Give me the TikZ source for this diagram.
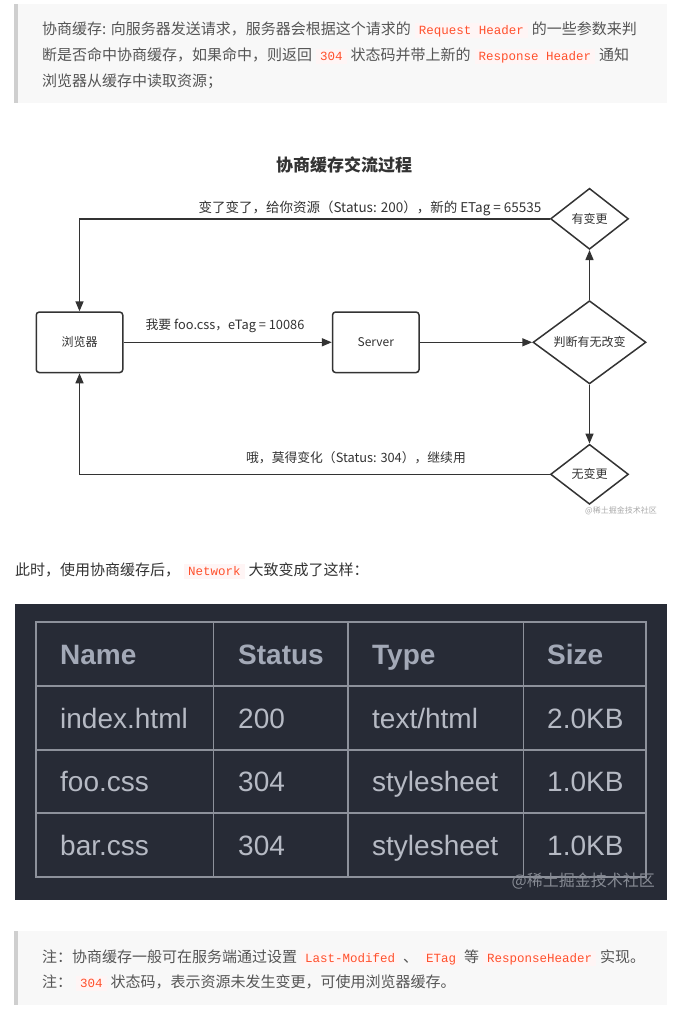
\documentclass[tikz,border=0pt]{standalone}
\usepackage{fontspec}
\setmainfont{Noto Sans CJK SC}
\newfontfamily\cjk{Noto Sans CJK SC}
\newfontfamily\monof{Liberation Mono}
\newfontfamily\tabf{Liberation Sans}
\usetikzlibrary{arrows.meta,shapes.geometric}
\definecolor{quotebg}{HTML}{F8F8F8}
\definecolor{quotebar}{HTML}{CFCFCF}
\definecolor{qtext}{HTML}{555555}
\definecolor{ptext}{HTML}{333333}
\definecolor{codebg}{HTML}{FFF5F5}
\definecolor{codered}{HTML}{FF502C}
\definecolor{diag}{HTML}{333333}
\definecolor{wm}{HTML}{AAAAAA}
\definecolor{tblbg}{HTML}{272B36}
\definecolor{tblgrid}{HTML}{8D919B}
\definecolor{tblhead}{HTML}{A3A9B7}
\definecolor{tbltext}{HTML}{B6BAC4}
\definecolor{tblwm}{HTML}{868A93}
\newcommand\cd[1]{\hspace{4pt}{\setlength{\fboxsep}{0pt}\colorbox{codebg}{\rule[-3.5pt]{0pt}{15pt}\hspace{4pt}\textcolor{codered}{\monof\fontsize{12.5pt}{14pt}\selectfont #1}\hspace{4pt}}}\hspace{4pt}}
\begin{document}
\begin{tikzpicture}[x=1pt,y=-1pt,
  qline/.style={anchor=base west,inner sep=0pt,text=qtext,font=\cjk\fontsize{15pt}{18pt}\selectfont},
  pline/.style={anchor=base west,inner sep=0pt,text=ptext,font=\cjk\fontsize{15pt}{18pt}\selectfont},
  box/.style={draw=diag,line width=1.5pt,rounded corners=3pt,minimum width=86.5pt,minimum height=60.5pt,inner sep=0pt,text=diag,font=\cjk\fontsize{12pt}{14pt}\selectfont},
  dia/.style={draw=diag,line width=1.5pt,diamond,inner sep=0pt,text=diag,font=\cjk\fontsize{12pt}{14pt}\selectfont},
  conn/.style={draw=diag,line width=1.5pt,-{Triangle[length=10pt,width=8pt]}},
  lbl/.style={inner sep=0pt,text=diag,font=\cjk\fontsize{12.8pt}{14pt}\selectfont},
  thead/.style={anchor=base west,inner sep=0pt,text=tblhead,font=\tabf\bfseries\fontsize{28pt}{32pt}\selectfont},
  tcell/.style={anchor=base west,inner sep=0pt,text=tbltext,font=\tabf\fontsize{28pt}{32pt}\selectfont},
  tgrid/.style={draw=tblgrid,line width=1.2pt}
]
\useasboundingbox (0,0) rectangle (679,1018);
\fill[white] (0,0) rectangle (679,1018);
% top quote
\fill[quotebg] (14,4) rectangle (667,103);
\fill[quotebar] (14,4) rectangle (18,103);
\node[qline] (q1) at (42,34) {协商缓存: 向服务器发送请求，服务器会根据这个请求的\cd{Request Header}的一些参数来判};
\node[qline] (q2) at (42,60) {断是否命中协商缓存，如果命中，则返回\cd{304}状态码并带上新的\cd{Response Header}通知};
\node[qline] (q3) at (42,86) {浏览器从缓存中读取资源；};
% diagram
\node[inner sep=0pt,text=diag,font=\cjk\bfseries\fontsize{17pt}{20pt}\selectfont] (title) at (344,165) {协商缓存交流过程};
\node[box] (browser) at (79.5,342.3) {浏览器};
\node[box] (server) at (375.8,342.3) {Server};
\node[dia,minimum width=113pt,minimum height=60pt] (judge) at (589.5,342.3) {判断有无改变};
\node[dia,minimum width=78pt,minimum height=61pt] (yes) at (589.5,218.8) {有变更};
\node[dia,minimum width=78pt,minimum height=60pt] (no) at (589.5,474.3) {无变更};
\draw[conn] (browser) -- (server);
\draw[conn] (server) -- (judge);
\draw[conn] (judge) -- (yes);
\draw[conn] (judge) -- (no);
\draw[conn] (yes.west) -| (browser.north);
\draw[conn] (no.west) -| (browser.south);
\node[lbl,font=\cjk\fontsize{13.5pt}{15pt}\selectfont] (l1) at (370,208) {变了变了，给你资源（Status: 200），新的 ETag = 65535};
\node[lbl] (l2) at (225,326) {我要 foo.css，eTag = 10086};
\node[lbl] (l3) at (356,458) {哦，莫得变化（Status: 304），继续用};
\node[inner sep=0pt,text=wm,font=\cjk\fontsize{8pt}{9pt}\selectfont] (wm1) at (621,511) {@稀土掘金技术社区};
% paragraph
\node[pline] (p1) at (15,575) {此时，使用协商缓存后，\cd{Network}大致变成了这样：};
% table image
\fill[tblbg] (15,604) rectangle (667,900);
\draw[tgrid] (36,622) rectangle (646,877);
\draw[tgrid] (36,686) -- (646,686);
\draw[tgrid] (36,750) -- (646,750);
\draw[tgrid] (36,813) -- (646,813);
\draw[tgrid] (213.5,622) -- (213.5,877);
\draw[tgrid] (348,622) -- (348,877);
\draw[tgrid] (523.5,622) -- (523.5,877);
\node[thead] (h1) at (60,664) {Name};
\node[thead] (h2) at (238,664) {Status};
\node[thead] (h3) at (372,664) {Type};
\node[thead] (h4) at (547,664) {Size};
\node[tcell] (a1) at (60,728) {index.html};
\node[tcell] (a2) at (238,728) {200};
\node[tcell] (a3) at (372,728) {text/html};
\node[tcell] (a4) at (547,728) {2.0KB};
\node[tcell] (b1) at (60,791) {foo.css};
\node[tcell] (b2) at (238,791) {304};
\node[tcell] (b3) at (372,791) {stylesheet};
\node[tcell] (b4) at (547,791) {1.0KB};
\node[tcell] (c1) at (60,855) {bar.css};
\node[tcell] (c2) at (238,855) {304};
\node[tcell] (c3) at (372,855) {stylesheet};
\node[tcell] (c4) at (547,855) {1.0KB};
\node[anchor=east,inner sep=0pt,text=tblwm,font=\cjk\fontsize{16pt}{18pt}\selectfont] (wm2) at (655,881) {@稀土掘金技术社区};
% bottom quote
\fill[quotebg] (14,931) rectangle (667,1005);
\fill[quotebar] (14,931) rectangle (18,1005);
\node[qline] (n1) at (42,962) {注：协商缓存一般可在服务端通过设置\cd{Last-Modifed}、\cd{ETag}等\cd{ResponseHeader}实现。};
\node[qline] (n2) at (42,987) {注：\cd{304}状态码，表示资源未发生变更，可使用浏览器缓存。};
\end{tikzpicture}
\end{document}
